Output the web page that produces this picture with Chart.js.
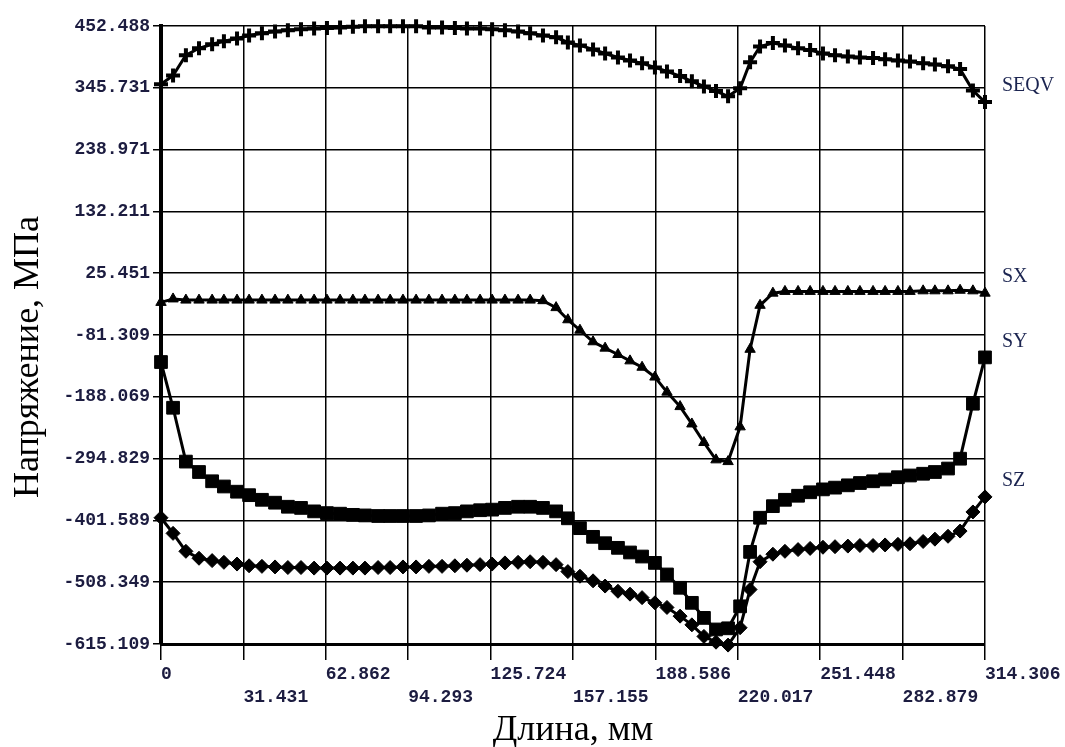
<!DOCTYPE html>
<html>
<head>
<meta charset="utf-8">
<script src="https://cdn.jsdelivr.net/npm/chart.js@4.4.1/dist/chart.umd.min.js"></script>
<style>
  html, body { margin: 0; padding: 0; background: #fff; }
</style>
</head>
<body>
<canvas id="stress" width="1065" height="747"></canvas>
<script>
// path coordinate, mm
const X_MM = [0, 4.6, 9.5, 14.5, 19.5, 24.0, 29.0, 33.6, 38.5, 43.5, 48.4, 53.4, 58.4, 63.3, 68.3, 73.2, 77.8,
  82.8, 87.4, 92.3, 97.3, 102.2, 107.2, 112.1, 116.7, 121.7, 126.3, 131.2, 136.2, 140.8, 145.7, 150.7, 155.2,
  159.8, 164.8, 169.4, 174.3, 178.9, 183.5, 188.4, 193.0, 198.0, 202.5, 207.1, 211.7, 216.3, 220.9, 224.7,
  228.5, 233.4, 238.0, 243.0, 247.6, 252.5, 257.1, 262.0, 266.6, 271.6, 276.2, 281.1, 285.7, 290.7, 295.2,
  300.2, 304.8, 309.7, 314.306];

// stresses, MPa
const SEQV = [352, 367, 402, 414, 421, 426, 431, 436, 440, 443, 445, 447, 448, 449, 450, 451, 452,
  452, 452, 452, 452, 450, 450, 449, 448, 448, 447, 445, 443, 440, 436, 433, 424,
  419, 412, 405, 398, 393, 388, 381, 374, 366, 357, 348, 340, 331, 345, 390,
  417, 423, 419, 414, 411, 405, 402, 400, 398, 397, 395, 393, 391, 388, 386,
  383, 378, 341, 321];
const SX = [-25, -19, -21, -21, -21, -21, -21, -21, -21, -21, -21, -21, -21, -21, -21, -21, -21,
  -21, -21, -21, -21, -21, -21, -21, -21, -21, -21, -21, -21, -21, -22, -34, -55,
  -73, -93, -104, -115, -126, -137, -154, -180, -205, -235, -267, -297, -300, -240, -106,
  -30, -9, -6, -6, -6, -6, -6, -6, -6, -6, -6, -6, -6, -5, -5,
  -5, -4, -5, -9];
const SY = [-128, -207, -300, -318, -334, -343, -352, -358, -366, -371, -378, -380, -386, -389, -390, -392, -393,
  -394, -394, -394, -394, -393, -390, -389, -386, -384, -383, -380, -378, -378, -380, -386, -398,
  -415, -430, -441, -449, -457, -464, -475, -495, -518, -544, -570, -590, -588, -550, -456,
  -397, -377, -366, -359, -353, -348, -345, -341, -337, -334, -331, -327, -324, -321, -318,
  -312, -295, -200, -120];
const SZ = [-397, -424, -455, -467, -471, -474, -477, -480, -481, -482, -483, -483, -484, -484, -484, -484, -484,
  -483, -483, -482, -482, -481, -481, -480, -479, -478, -477, -475, -474, -473, -474, -478, -490,
  -498, -506, -515, -524, -529, -535, -544, -552, -567, -582, -602, -612, -617, -587, -521,
  -473, -460, -455, -452, -450, -448, -447, -446, -445, -445, -444, -443, -442, -438, -434,
  -429, -420, -387, -361];

const SERIES = ['SEQV', 'SX', 'SY', 'SZ'];
const MARKERS = ['cross', 'triangle', 'rect', 'rectRot'];
const Y_TICKS = ['452.488', '345.731', '238.971', '132.211', '25.451', '-81.309', '-188.069',
  '-294.829', '-401.589', '-508.349', '-615.109'];
const X_TICKS = ['0', '31.431', '62.862', '94.293', '125.724', '157.155', '188.586', '220.017',
  '251.448', '282.879', '314.306'];
const Y_TITLE = 'Напряжение, МПа';
const X_TITLE = 'Длина, мм';

const tickFont = { family: '"Liberation Mono", monospace', size: 18, weight: 'bold', lineHeight: 1.33 };
const tickColor = '#1c1c40';

// series names next to the line ends + rotated y title
const sideLabels = {
  id: 'sideLabels',
  afterDatasetsDraw(chart) {
    const { ctx, chartArea, scales } = chart;
    ctx.save();
    ctx.fillStyle = '#1b2450';
    ctx.font = '20px "Liberation Serif"';
    ctx.textBaseline = 'middle';
    chart.data.datasets.forEach(ds => {
      const last = ds.data[ds.data.length - 1];
      ctx.fillText(ds.label, scales.x.getPixelForValue(last.x) + 17, scales.y.getPixelForValue(last.y) - 16);
    });
    ctx.fillStyle = '#000';
    ctx.font = '36px "Liberation Serif"';
    ctx.translate(38, (chartArea.top + chartArea.bottom) / 2 + 22);
    ctx.rotate(-Math.PI / 2);
    ctx.textAlign = 'center';
    ctx.textBaseline = 'alphabetic';
    ctx.fillText(Y_TITLE, 0, 0);
    ctx.restore();
  }
};

const allSeries = [SEQV, SX, SY, SZ];
const datasets = SERIES.map((name, k) => ({
  label: name,
  data: X_MM.map((x, i) => ({ x, y: allSeries[k][i] })),
  borderColor: '#000',
  backgroundColor: '#000',
  borderWidth: 3,
  pointStyle: MARKERS[k],
  pointRadius: [7, 6, 9, 7][k],
  pointBorderWidth: k === 0 ? 4 : 1,
  pointBorderColor: '#000',
  pointBackgroundColor: '#000',
  tension: 0,
  clip: false
}));

new Chart(document.getElementById('stress'), {
  type: 'line',
  data: { datasets },
  options: {
    responsive: false,
    animation: false,
    layout: { padding: { left: 0, right: 80, top: 26, bottom: 0 } },
    plugins: {
      legend: { display: false },
      tooltip: { enabled: false }
    },
    scales: {
      x: {
        type: 'linear',
        min: 0,
        max: 314.306,
        afterBuildTicks: (scale) => { scale.ticks = X_TICKS.map(v => ({ value: parseFloat(v) })); },
        afterFit: (scale) => { scale.height = 103; scale.paddingLeft = 0; scale.paddingRight = 0; },
        ticks: {
          align: 'start',
          padding: 2,
          color: tickColor,
          font: tickFont,
          maxRotation: 0,
          autoSkip: false,
          callback: (v, i) => (i % 2 === 0 ? [X_TICKS[i], ''] : ['', X_TICKS[i]])
        },
        grid: { color: '#000', lineWidth: 1.5, tickLength: 16, tickColor: '#000' },
        border: { color: '#000', width: 3 },
        title: {
          display: true,
          text: X_TITLE,
          color: '#000',
          font: { family: '"Liberation Serif", serif', size: 36, lineHeight: 0.9 },
          padding: { top: 0, bottom: 0 }
        }
      },
      y: {
        min: -615.109,
        max: 452.488,
        afterBuildTicks: (scale) => { scale.ticks = Y_TICKS.map(v => ({ value: parseFloat(v) })); },
        afterFit: (scale) => { scale.width = 161; scale.paddingTop = 0; scale.paddingBottom = 0; },
        ticks: {
          padding: 3,
          color: tickColor,
          font: tickFont,
          autoSkip: false,
          callback: (v, i) => Y_TICKS[i]
        },
        grid: { color: '#000', lineWidth: 1.5, tickLength: 8, tickColor: '#000' },
        border: { color: '#000', width: 4 }
      }
    }
  },
  plugins: [sideLabels]
});
</script>
</body>
</html>
